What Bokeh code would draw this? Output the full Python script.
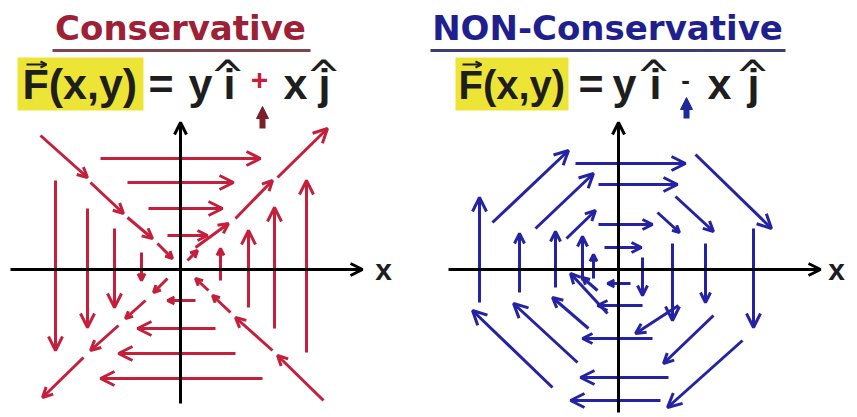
import math
from bokeh.plotting import figure
from bokeh.layouts import row
from bokeh.models import ColumnDataSource, Arrow, OpenHead, NormalHead, Range1d
from bokeh.core.properties import value
from bokeh.embed import file_html
from bokeh.resources import INLINE

# ---- Conservative field  F = y i + x j  (arrow tail -> head, axis units) ----
cons_x0 = [-80, -53, -32, -13, 15, 35, 55, 82,
           -125, -93, -66, -39, 40, 68, 94, 126,
           -140, -90, -53, -23, 7, 15, 55, 97,
           -13, -35, -62, -97, 143, 92, 50, 28]
cons_y0 = [111, 87, 61, 34, -31, -59, -84, -109,
           89, 61, 41, 17, -11, -38, -59, -83,
           134, 87, 52, 26, 9, 22, 51, 92,
           -9, -31, -56, -88, -131, -81, -43, -21]
cons_x1 = [80, 53, 42, 27, -13, -43, -62, -80,
           -125, -93, -66, -39, 40, 68, 94, 126,
           -93, -57, -28, -8, 17, 48, 92, 147,
           -27, -55, -90, -138, 97, 55, 32, 15]
cons_y1 = [111, 87, 61, 34, -31, -59, -84, -109,
           -81, -58, -38, -11, 21, 39, 62, 89,
           92, 56, 31, 11, 19, 46, 89, 141,
           -23, -49, -81, -128, -86, -48, -26, -9]

# ---- Non-conservative field  F = y i - x j ----
ncons_x0 = [-43, -20, -20, -14, 12, 24, 34, 50, 42,
            -139, -99, -63, -36, -25, 135, 87, 54, 24,
            -126, -83, -52, 77, 57, 39,
            124, 95, 60, -66, -41, -30, -11, -21]
ncons_y0 = [106, 85, 45, 22, -14, -36, -69, -108, -131,
            -33, -23, -18, -11, -9, 41, 26, 26, 12,
            47, 41, 31, 115, 73, 57,
            -71, -46, -36, -118, -93, -59, -44, -21]
ncons_x1 = [67, 59, 34, 23, -11, -21, -36, -38, -48,
            -139, -99, -63, -36, -25, 135, 87, 54, 24,
            -50, -25, -23, 153, 95, 61,
            49, 45, 17, -146, -105, -66, -48, -36]
ncons_y1 = [106, 85, 45, 22, -14, -36, -69, -108, -131,
            72, 36, 38, 33, 15, -58, -33, -51, -26,
            119, 96, 59, 41, 38, 37,
            -138, -94, -64, -41, -34, -28, -4, -8]

RED = "#c41f3b"
BLUE = "#2323a3"
YELLOW = "#ede536"
INK = "#1e1e1e"
TITLE_FONT = value("DejaVu Sans")
EQ_FONT = value("Liberation Sans")


def make_panel(width, ox, x0, y0, x1, y1, color):
    p = figure(width=width, height=417, output_backend="svg", toolbar_location=None,
               x_range=Range1d(-ox, width - ox), y_range=Range1d(-148, 269),
               min_border=0, background_fill_color="white", border_fill_color="white")
    p.axis.visible = False
    p.grid.visible = False
    p.outline_line_color = None

    # field arrows, split by length so that short arrows get smaller heads
    groups = {14: ([], [], [], []), 10: ([], [], [], []), 7: ([], [], [], [])}
    for a, b, c, d in zip(x0, y0, x1, y1):
        ln = math.hypot(c - a, d - b)
        key = 14 if ln > 70 else (10 if ln > 32 else 7)
        for lst, v in zip(groups[key], (a, b, c, d)):
            lst.append(v)
    for size, (a, b, c, d) in groups.items():
        if not a:
            continue
        src = ColumnDataSource(dict(x0=a, y0=b, x1=c, y1=d))
        p.add_layout(Arrow(x_start="x0", y_start="y0", x_end="x1", y_end="y1", source=src,
                           line_color=color, line_width=3,
                           end=OpenHead(size=size, line_color=color, line_width=3)))
    return p


def add_axes(p, xmin, xmax, ymin, ymax):
    for xs, ys, xe, ye in ((xmin, 0, xmax, 0), (0, ymin, 0, ymax)):
        p.add_layout(Arrow(x_start=xs, y_start=ys, x_end=xe, y_end=ye,
                           line_color="black", line_width=3,
                           end=OpenHead(size=12, line_color="black", line_width=3)))


# ---------------- left panel ----------------
left = make_panel(428, 180, cons_x0, cons_y0, cons_x1, cons_y1, RED)
add_axes(left, -170, 182, -134, 147)
left.text(x=[203], y=[0], text=["x"], text_font=EQ_FONT, text_font_style="bold",
          text_font_size="30px", text_color=INK, text_align="center", text_baseline="middle")
left.text(x=[0], y=[242], text=["Conservative"], text_font=TITLE_FONT, text_font_style="bold",
          text_font_size="34px", text_color="#9c2036", text_align="center",
          text_baseline="alphabetic")
left.segment(x0=[-128], y0=[219], x1=[130], y1=[219], line_color="#7d4450", line_width=3)
left.quad(left=[-163], right=[-37], top=[212], bottom=[159], fill_color=YELLOW, line_color=None)
left.text(x=[-158], y=[186], text=["F(x,y)"], text_font=EQ_FONT, text_font_style="bold",
          text_font_size="43px", text_color=INK, text_baseline="alphabetic")
left.add_layout(Arrow(x_start=-154, y_start=205, x_end=-134, y_end=205, line_color=INK,
                      line_width=2, end=OpenHead(size=6, line_color=INK, line_width=2)))
left.text(x=[-32, 8, 43, 103, 138], y=[186, 186, 186, 186, 186],
          text=["=", "y", "i", "x", "j"], text_font=EQ_FONT, text_font_style="bold",
          text_font_size="43px", text_color=INK, text_baseline="alphabetic")
left.text(x=[47, 143], y=[193, 193], text=["^", "^"], text_font=TITLE_FONT,
          text_font_size="42px", text_color=INK, text_align="center", text_baseline="alphabetic")
left.text(x=[79], y=[190], text=["+"], text_font=EQ_FONT, text_font_style="bold",
          text_font_size="30px", text_color=RED, text_align="center", text_baseline="alphabetic")
left.add_layout(Arrow(x_start=82, y_start=141, x_end=82, y_end=163, line_color="#7a1f2b",
                      line_width=6, end=NormalHead(size=12, fill_color="#7a1f2b",
                                                   line_color="#7a1f2b")))

# ---------------- right panel ----------------
right = make_panel(429, 190, ncons_x0, ncons_y0, ncons_x1, ncons_y1, BLUE)
add_axes(right, -170, 202, -143, 147)
right.text(x=[218], y=[0], text=["x"], text_font=EQ_FONT, text_font_style="bold",
           text_font_size="30px", text_color=INK, text_align="center", text_baseline="middle")
right.text(x=[-11], y=[242], text=["NON-Conservative"], text_font=TITLE_FONT,
           text_font_style="bold", text_font_size="34px", text_color="#1f1f8e",
           text_align="center", text_baseline="alphabetic")
right.segment(x0=[-188], y0=[219], x1=[167], y1=[219], line_color="#3d3d72", line_width=3)
right.quad(left=[-163], right=[-50], top=[212], bottom=[159], fill_color=YELLOW, line_color=None)
right.text(x=[-160], y=[185], text=["F(x,y)"], text_font=EQ_FONT, text_font_style="bold",
           text_font_size="40px", text_color=INK, text_baseline="alphabetic")
right.add_layout(Arrow(x_start=-156, y_start=205, x_end=-137, y_end=205, line_color=INK,
                       line_width=2, end=OpenHead(size=6, line_color=INK, line_width=2)))
right.text(x=[-40, -6, 31, 89, 129], y=[186, 186, 186, 186, 186],
           text=["=", "y", "i", "x", "j"], text_font=EQ_FONT, text_font_style="bold",
           text_font_size="43px", text_color=INK, text_align="left", text_baseline="alphabetic")
right.text(x=[35, 134], y=[193, 193], text=["^", "^"], text_font=TITLE_FONT,
           text_font_size="42px", text_color=INK, text_align="center", text_baseline="alphabetic")
right.text(x=[67], y=[190], text=["-"], text_font=EQ_FONT, text_font_style="bold",
           text_font_size="26px", text_color=INK, text_align="center", text_baseline="alphabetic")
right.add_layout(Arrow(x_start=68, y_start=151, x_end=68, y_end=172, line_color="#1d2a9a",
                       line_width=6, end=NormalHead(size=12, fill_color="#1d2a9a",
                                                    line_color="#1d2a9a")))

layout = row(left, right, spacing=0)
open("out.html", "w").write(file_html(layout, INLINE))
